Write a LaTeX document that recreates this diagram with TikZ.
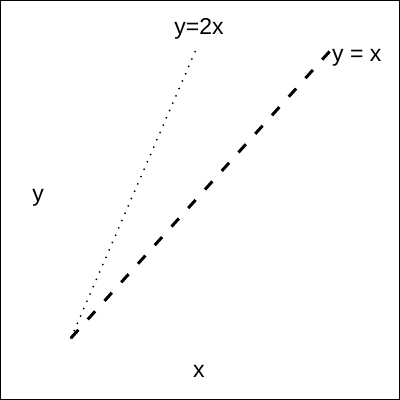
\documentclass[tikz,border=0pt]{standalone}
\usepackage{fontspec}
\setmainfont{Liberation Sans}

\begin{document}
\begin{tikzpicture}[x=1pt, y=-1pt, font=\fontsize{23}{27}\selectfont]
  % frame
  \draw[line width=1.2pt] (0.6,0.6) rectangle (399.4,399.4);
  \useasboundingbox (0,0) rectangle (400,400);

  % origin and line ends
  \coordinate (origin) at (71,338);
  \coordinate (endDouble) at (198,45);
  \coordinate (endIdent) at (330,51);

  % y = 2x (dotted)
  \draw[line width=2pt, line cap=round, dash pattern=on 0pt off 8pt] (origin) -- (endDouble);
  % y = x (dashed)
  \draw[line width=3pt, dash pattern=on 11pt off 14pt] (origin) -- (endIdent);

  % labels
  \node (lblDouble) at (199,29) {y=2x};
  \node[anchor=west, inner sep=0pt] (lblIdent) at (332,58) {y = x};
  \node (lblY) at (38,198) {y};
  \node (lblX) at (199,371) {x};
\end{tikzpicture}
\end{document}
